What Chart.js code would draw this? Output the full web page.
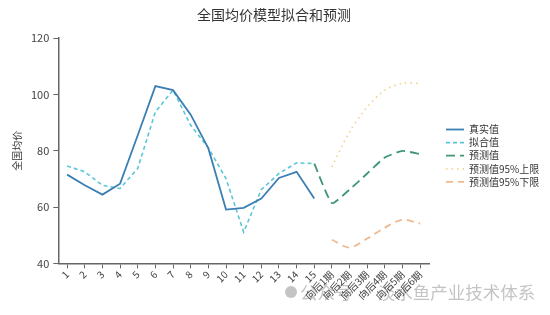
<!DOCTYPE html>
<html>
<head>
<meta charset="utf-8">
<script src="https://cdn.jsdelivr.net/npm/chart.js@4"></script>
<style>
html,body{margin:0;padding:0;background:#fff;}
#wrap{position:relative;width:550px;height:315px;}
</style>
</head>
<body>
<div id="wrap"><canvas id="c" width="550" height="315"></canvas></div>
<script>
const categories = ['1','2','3','4','5','6','7','8','9','10','11','12','13','14','15','向后1期','向后2期','向后3期','向后4期','向后5期','向后6期'];
const realValues = [71.5, 67.7, 64.4, 68.3, 85.5, 102.9, 101.5, 92.8, 80.8, 59.1, 59.7, 63.0, 70.3, 72.5, 63.0, null, null, null, null, null, null];
const fitValues  = [74.6, 72.5, 67.7, 66.6, 73.7, 93.8, 101.5, 89.0, 81.0, 70.1, 51.1, 66.2, 71.9, 75.7, 75.4, null, null, null, null, null, null];
const predValues = [null, null, null, null, null, null, null, null, null, null, null, null, null, null, 75.4, 61.4, 66.2, 71.9, 77.6, 79.9, 78.8];
const upperValues = [null, null, null, null, null, null, null, null, null, null, null, null, null, null, null, 74.3, 86.7, 95.5, 101.5, 103.9, 103.9];
const lowerValues = [null, null, null, null, null, null, null, null, null, null, null, null, null, null, null, 48.4, 45.6, 48.8, 52.7, 55.5, 54.1];
const yTicks = [40, 60, 80, 100, 120];
const seriesNames = ['真实值', '拟合值', '预测值', '预测值95%上限', '预测值95%下限'];
const chartTitle = '全国均价模型拟合和预测';
const yTitle = '全国均价';
const watermark = '公众号 · 淡水鱼产业技术体系';

const FONT = "'Noto Sans CJK SC', 'Noto Sans', sans-serif";

const decorPlugin = {
  id: 'decor',
  beforeDraw(chart) {
    const ctx = chart.ctx;
    ctx.save();
    ctx.fillStyle = '#c4c4c4';
    ctx.beginPath();
    ctx.arc(291, 292, 6, 0, Math.PI * 2);
    ctx.fill();
    ctx.font = '17.5px ' + FONT;
    ctx.textBaseline = 'middle';
    ctx.fillText(watermark, 300, 292);
    ctx.restore();
  },
  afterDraw(chart) {
    const ctx = chart.ctx;
    ctx.save();
    // title
    ctx.fillStyle = '#333';
    ctx.font = '14px ' + FONT;
    ctx.textAlign = 'center';
    ctx.textBaseline = 'middle';
    ctx.fillText(chartTitle, 274, 15);
    // legend
    const x0 = 446, x1 = 464, tx = 469, y0 = 129.5, dy = 13.1;
    ctx.textAlign = 'left';
    chart.data.datasets.forEach((ds, i) => {
      const y = y0 + i * dy;
      ctx.beginPath();
      ctx.strokeStyle = ds.borderColor;
      ctx.lineWidth = ds.borderWidth;
      ctx.setLineDash(ds.borderDash || []);
      ctx.moveTo(x0, y);
      ctx.lineTo(x1, y);
      ctx.stroke();
      ctx.setLineDash([]);
      ctx.fillStyle = '#333';
      ctx.font = '10px ' + FONT;
      ctx.fillText(ds.label, tx, y);
    });
    ctx.restore();
  }
};

new Chart(document.getElementById('c'), {
  type: 'line',
  data: {
    labels: categories,
    datasets: [
      { label: seriesNames[0], data: realValues, borderColor: '#3b7fb3', backgroundColor: '#3b7fb3', borderWidth: 1.8, pointRadius: 0, tension: 0 },
      { label: seriesNames[1], data: fitValues, borderColor: '#5cc6d6', backgroundColor: '#5cc6d6', borderWidth: 1.6, borderDash: [4, 3], pointRadius: 0, tension: 0 },
      { label: seriesNames[2], data: predValues, borderColor: '#3e9673', backgroundColor: '#3e9673', borderWidth: 1.8, borderDash: [9, 5], pointRadius: 0, tension: 0.15 },
      { label: seriesNames[3], data: upperValues, borderColor: '#f3d59a', backgroundColor: '#f3d59a', borderWidth: 1.8, borderDash: [1.5, 4], pointRadius: 0, tension: 0.3 },
      { label: seriesNames[4], data: lowerValues, borderColor: '#eeb98f', backgroundColor: '#eeb98f', borderWidth: 1.8, borderDash: [7, 5], pointRadius: 0, tension: 0.3 }
    ]
  },
  options: {
    responsive: false,
    animation: false,
    devicePixelRatio: 1,
    layout: { padding: { left: 7, right: 121, top: 38, bottom: 13 } },
    plugins: {
      title: { display: false },
      legend: { display: false },
      tooltip: { enabled: false }
    },
    scales: {
      x: {
        type: 'category',
        offset: true,
        grid: { display: true, drawOnChartArea: false, drawTicks: true, tickLength: 5, offset: false, color: '#666' },
        border: { display: true, color: '#666', width: 1.5 },
        ticks: {
          autoSkip: false, maxRotation: 45, minRotation: 45, color: '#444',
          font: { family: FONT, size: 10 }, padding: 0
        }
      },
      y: {
        min: 40, max: 120,
        afterBuildTicks(axis) { axis.ticks = yTicks.map(v => ({ value: v })); },
        grid: { display: true, drawOnChartArea: false, drawTicks: true, tickLength: 5, color: '#666' },
        border: { display: true, color: '#666', width: 1.5 },
        ticks: { color: '#444', font: { family: FONT, size: 11 }, padding: 4 },
        title: { display: true, text: yTitle, color: '#333', font: { family: FONT, size: 10 }, padding: 4 }
      }
    }
  },
  plugins: [decorPlugin]
});
</script>
</body>
</html>
